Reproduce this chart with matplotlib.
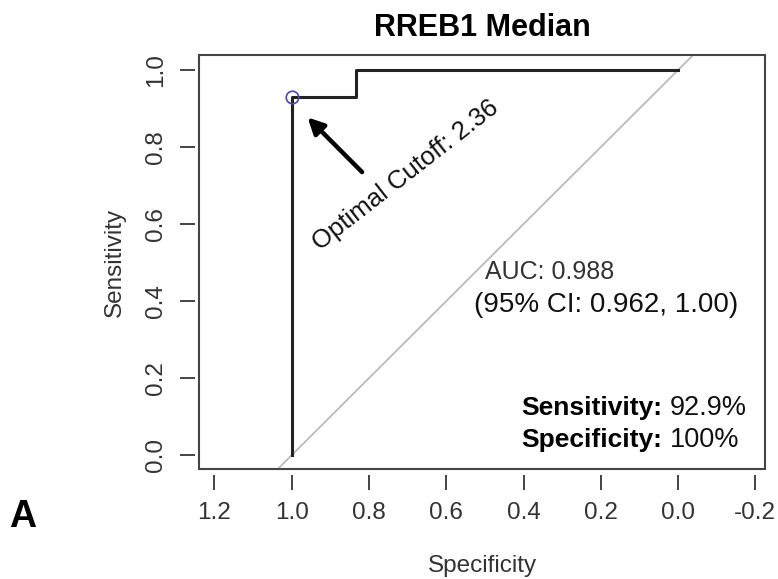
import numpy as np
import matplotlib.pyplot as plt
from matplotlib.patches import Rectangle

plt.rcParams['font.family'] = ['Liberation Sans', 'DejaVu Sans']

# ROC curve (specificity, sensitivity)
spec = [1.0, 1.0, 0.833, 0.833, 0.0]
sens = [0.0, 0.929, 0.929, 1.0, 1.0]
best_spec, best_sens = 1.0, 0.929
cutoff = 2.36
auc = 0.988
ci = (0.962, 1.00)
xticks = [1.2, 1.0, 0.8, 0.6, 0.4, 0.2, 0.0, -0.2]
yticks = [0.0, 0.2, 0.4, 0.6, 0.8, 1.0]

gray = '#333333'
fig = plt.figure(figsize=(7.78, 5.79), dpi=100)
ax = fig.add_axes([0.2558, 0.19, 0.7275, 0.715])
ax.set_xlim(1.24, -0.225)
ax.set_ylim(-0.036, 1.039)

# identity line
ax.axline((1.0, 0.0), (0.0, 1.0), color='#bbbbbb', lw=1.3, zorder=1)
ax.plot(spec, sens, color='#222222', lw=2.2, zorder=3)
ax.plot(best_spec, best_sens, 'o', ms=9, mfc='none', mec='#4a4aa8', mew=1.2, zorder=4)

ax.annotate('', xy=(0.959, 0.877), xytext=(0.818, 0.735),
            arrowprops=dict(arrowstyle='-|>', color='black', lw=3.2,
                            mutation_scale=24, shrinkA=0, shrinkB=0))
ax.text(0.706, 0.727, f'Optimal Cutoff: {cutoff:.2f}', rotation=38,
        ha='center', va='center', fontsize=18.5, color='#111111',
        rotation_mode='anchor')

ax.text(0.501, 0.476, f'AUC: {auc:.3f}', ha='left', va='center',
        fontsize=18, color=gray)
ax.text(0.527, 0.39, f'(95% CI: {ci[0]:.3f}, {ci[1]:.2f})', ha='left',
        va='center', fontsize=20, color='#111111')

# bold label + plain value
fig.canvas.draw()
r = fig.canvas.get_renderer()
for lab, val, y in [('Sensitivity:', f'{best_sens * 100:.1f}%', 0.122),
                    ('Specificity:', f'{best_spec * 100:.0f}%', 0.039)]:
    t = ax.text(0.405, y, lab, ha='left', va='center', fontsize=19,
                fontweight='bold', color='black')
    bb = t.get_window_extent(renderer=r)
    x_end = ax.transData.inverted().transform((bb.x1 + 7, 0))[0]
    ax.text(x_end, y, val, ha='left', va='center', fontsize=19.5, color='#111111')

# box and detached R-style axes
for s in ax.spines.values():
    s.set_linewidth(0)
ax.spines['bottom'].set_position(('outward', 4))
ax.spines['left'].set_position(('outward', 3))
ax.add_patch(Rectangle((0, 0), 1, 1, transform=ax.transAxes, fill=False,
                       ec='#444444', lw=1.5, clip_on=False, zorder=5))
ax.set_xticks(xticks)
ax.set_xticklabels([f'{v:.1f}' for v in xticks])
ax.set_yticks(yticks)
ax.set_yticklabels([f'{v:.1f}' for v in yticks], rotation=90, va='center')
ax.tick_params(direction='out', length=11, width=1.4, color='#444444',
               labelsize=17.5, labelcolor=gray, pad=9)

ax.set_xlabel('Specificity', fontsize=17.5, color=gray, labelpad=22)
ax.set_ylabel('Sensitivity', fontsize=17.5, color=gray, labelpad=14)
ax.set_title('RREB1 Median', fontsize=22, fontweight='bold', pad=14)

fig.text(0.012, 0.107, 'A', fontsize=27, fontweight='bold', va='center')

fig.savefig('out.png', dpi=100)
